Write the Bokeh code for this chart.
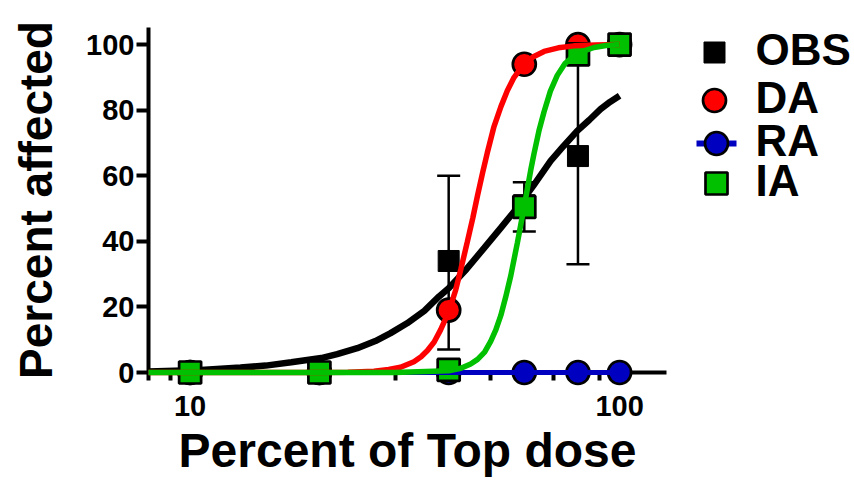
from bokeh.plotting import figure
from bokeh.models import Range1d, FixedTicker, ColumnDataSource, Whisker, TeeHead
from bokeh.layouts import row
from bokeh.embed import file_html
from bokeh.resources import INLINE
from bokeh.core.properties import value

# ---------------- data ----------------
dose = [10, 20, 40, 60, 80, 100]
obs = [0, 0, 34, 51, 66, 100]
obs_lower = [0, 0, 7, 43, 33, 100]
obs_upper = [0, 0, 60, 58, 99.3, 100]
da = [0, 0, 19, 94, 100, 100]
ra = [0, 0, 0, 0, 0, 0]
ia = [0, 0, 0.8, 50.5, 97, 100]

obs_fit_x = [8, 10.6, 13.1, 15, 17.2, 20.2, 22, 24.5, 27, 29.3, 32, 35.1, 38, 40, 44,
             48.4, 52.9, 57.8, 63, 69.1, 74, 79.7, 85, 90.3, 95, 100]
obs_fit_y = [0.3, 0.8, 1.5, 2.1, 3.1, 4.4, 5.6, 7.4, 9.6, 12, 15, 18.8, 23.2, 25.7, 31.5,
             38, 44.1, 50.3, 57, 64.5, 69, 73.7, 77, 80.3, 82.5, 84.4]

da_fit_x = [8, 20, 23.3, 26.8, 29, 30.9, 33.2, 34.5, 35.7, 37, 38.3, 40, 41.5, 42.7,
            44.2, 45.5, 46.7, 48, 49.2, 51, 52.9, 54.8, 56.8, 59.9, 63, 66.7, 72, 78.3, 88, 100]
da_fit_y = [0, 0, 0.1, 0.4, 0.9, 1.6, 3.3, 4.8, 6.7, 9.3, 13, 18.5, 25, 31.5,
            39.8, 47, 54, 61, 67, 75, 81, 86, 90, 94, 96.3, 97.9, 99, 99.6, 99.9, 100]

ra_fit_x = [8, 100]
ra_fit_y = [0, 0]

ia_fit_x = [8, 30, 40, 42.7, 45, 46.7, 48.5, 50.1, 51.5, 52.9, 54.3, 55.8, 57.8, 59.9,
            61, 62.1, 63.2, 64.9, 66.7, 69, 71.6, 74.5, 78.3, 82, 87.2, 93, 100]
ia_fit_y = [0, 0, 0.5, 1.3, 2.6, 4, 6.2, 9.5, 13, 17.4, 23, 29.5, 39.5, 50.3,
            56, 61.7, 66.7, 73.7, 79.5, 85.8, 90.6, 94.1, 96.6, 97.9, 99.1, 99.7, 100]

xticks = [10, 100]
xtick_labels = ["10", "100"]
xminor = [8, 9, 20, 30, 40, 50, 60, 70, 80, 90]
yticks = [0, 20, 40, 60, 80, 100]

series_names = ["OBS", "DA", "RA", "IA"]

# ---------------- styles ----------------
BLACK = "#000000"
RED = "#FF0000"
BLUE = "#0000C0"
GREEN = "#00C000"
FONT = "Liberation Sans"

TOP, BOTTOM = 27, 114

p = figure(width=678, height=486, x_axis_type="log",
           x_range=Range1d(8, 128.6), y_range=Range1d(0, 105.2),
           output_backend="svg", toolbar_location=None,
           min_border_left=148, min_border_right=12,
           min_border_top=TOP, min_border_bottom=BOTTOM)
p.outline_line_color = None
p.xgrid.grid_line_color = None
p.ygrid.grid_line_color = None
p.background_fill_color = "white"
p.border_fill_color = "white"

xa = p.xaxis[0]
xa.ticker = FixedTicker(ticks=xticks, minor_ticks=xminor)
xa.major_label_overrides = {t: l for t, l in zip(xticks, xtick_labels)}
xa.axis_label = "Percent of Top dose"

ya = p.yaxis[0]
ya.ticker = FixedTicker(ticks=yticks)
ya.axis_label = "Percent affected"

for ax in (xa, ya):
    ax.axis_line_width = 4
    ax.axis_line_color = BLACK
    ax.major_tick_line_width = 4
    ax.major_tick_line_color = BLACK
    ax.minor_tick_line_width = 4
    ax.major_tick_out = 12
    ax.major_tick_in = 0
    ax.minor_tick_out = 8
    ax.minor_tick_in = 0
    ax.major_label_text_font = FONT
    ax.major_label_text_font_style = "bold"
    ax.major_label_text_font_size = "29px"
    ax.major_label_text_color = BLACK
    ax.axis_label_text_font = FONT
    ax.axis_label_text_font_style = "bold"
    ax.axis_label_text_color = BLACK

xa.minor_tick_line_color = BLACK
ya.minor_tick_line_color = None
xa.major_label_standoff = 11
xa.axis_label_standoff = 5
xa.axis_label_text_font_size = "48px"
ya.major_label_standoff = 2
ya.axis_label_standoff = 21
ya.axis_label_text_font_size = "46px"

# error bars
err = [(d, lo, up) for d, lo, up in zip(dose, obs_lower, obs_upper) if up > lo]
err_src = ColumnDataSource(dict(x=[e[0] for e in err], lower=[e[1] for e in err],
                                upper=[e[2] for e in err]))
p.add_layout(Whisker(source=err_src, base="x", lower="lower", upper="upper",
                     line_width=2.5, line_color=BLACK,
                     upper_head=TeeHead(size=23, line_width=2.5, line_color=BLACK),
                     lower_head=TeeHead(size=23, line_width=2.5, line_color=BLACK)))

LV = "overlay"
p.line(obs_fit_x, obs_fit_y, line_color=BLACK, line_width=6.5, level=LV)
p.scatter(dose, obs, marker="square", size=21, fill_color=BLACK, line_color=BLACK, level=LV)
p.scatter(dose, ra, marker="circle", size=23, fill_color=BLUE, line_color=BLACK,
          line_width=2.7, level=LV)
p.scatter(dose, da, marker="circle", size=23, fill_color=RED, line_color=BLACK,
          line_width=2.7, level=LV)
p.scatter(dose, ia, marker="square", size=22, fill_color=GREEN, line_color=BLACK,
          line_width=2.7, level=LV)
p.line(ra_fit_x, ra_fit_y, line_color=BLUE, line_width=5, level=LV)
p.line(da_fit_x, da_fit_y, line_color=RED, line_width=5.5, level=LV)
p.line(ia_fit_x, ia_fit_y, line_color=GREEN, line_width=5.5, level=LV)

# ---------------- legend panel (page-pixel coordinates) ----------------
LEG_LEFT, LEG_W = 678, 172
leg = figure(width=LEG_W, height=486,
             x_range=Range1d(LEG_LEFT, LEG_LEFT + LEG_W),
             y_range=Range1d(486 - BOTTOM, TOP),
             output_backend="svg", toolbar_location=None,
             min_border_left=0, min_border_right=0,
             min_border_top=TOP, min_border_bottom=BOTTOM)
leg.xaxis.visible = False
leg.yaxis.visible = False
leg.xgrid.visible = False
leg.ygrid.visible = False
leg.outline_line_color = None
leg.background_fill_color = "white"
leg.border_fill_color = "white"

row_y = [52, 100, 143, 183]
mark_x = 714
label_x = 755
leg.scatter([mark_x], [row_y[0]], marker="square", size=21, fill_color=BLACK, line_color=BLACK)
leg.scatter([mark_x], [row_y[1]], marker="circle", size=23, fill_color=RED,
            line_color=BLACK, line_width=2.7)
leg.segment([mark_x - 18], [row_y[2]], [mark_x + 22], [row_y[2]], line_color=BLUE, line_width=6)
leg.scatter([mark_x + 2], [row_y[2]], marker="circle", size=23, fill_color=BLUE,
            line_color=BLACK, line_width=2.7)
leg.scatter([mark_x + 2], [row_y[3]], marker="square", size=22, fill_color=GREEN,
            line_color=BLACK, line_width=2.7)
leg.text(x=[label_x] * len(series_names), y=[yy - 3 for yy in row_y], text=series_names,
         text_font=value(FONT), text_font_style="bold", text_font_size="44px",
         text_color=BLACK, text_align="left", text_baseline="alphabetic")

layout = row(p, leg)
open("out.html", "w").write(file_html(layout, INLINE))
